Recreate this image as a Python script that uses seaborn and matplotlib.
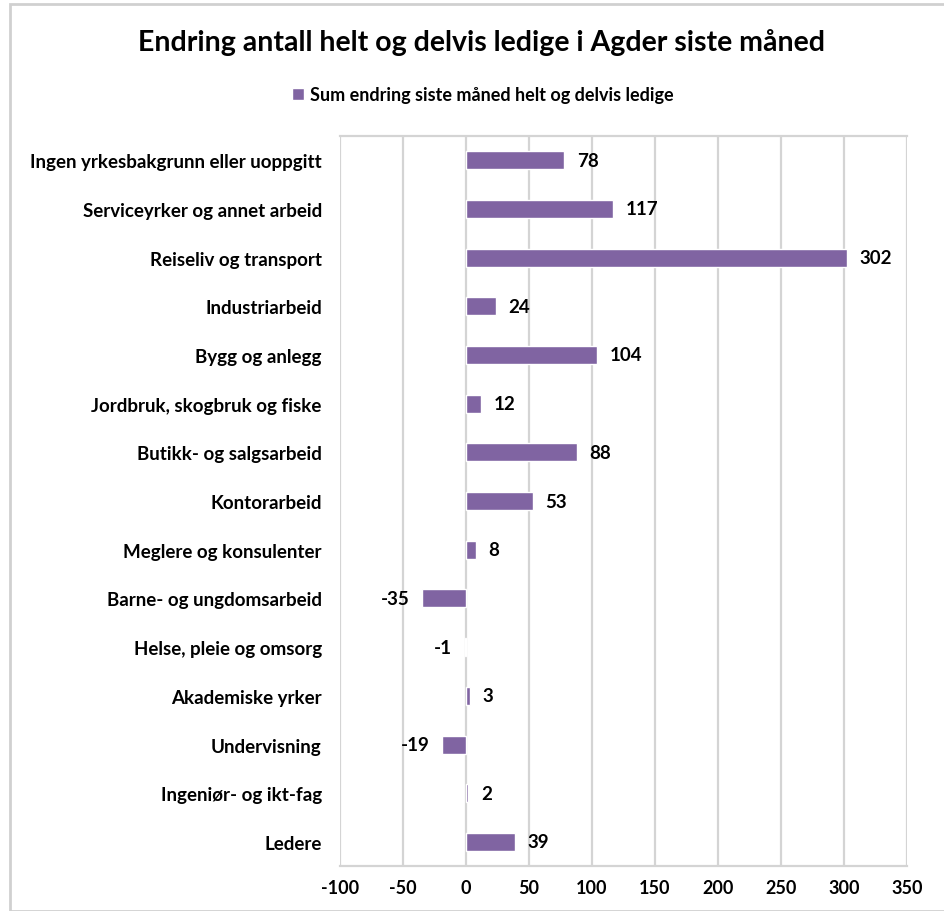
import matplotlib
matplotlib.use('Agg')
import matplotlib.pyplot as plt
import seaborn as sns
import pandas as pd
from matplotlib.patches import Rectangle

categories = [
    'Ingen yrkesbakgrunn eller uoppgitt',
    'Serviceyrker og annet arbeid',
    'Reiseliv og transport',
    'Industriarbeid',
    'Bygg og anlegg',
    'Jordbruk, skogbruk og fiske',
    'Butikk- og salgsarbeid',
    'Kontorarbeid',
    'Meglere og konsulenter',
    'Barne- og ungdomsarbeid',
    'Helse, pleie og omsorg',
    'Akademiske yrker',
    'Undervisning',
    'Ingeniør- og ikt-fag',
    'Ledere',
]
values = [78, 117, 302, 24, 104, 12, 88, 53, 8, -35, -1, 3, -19, 2, 39]
xticks = [-100, -50, 0, 50, 100, 150, 200, 250, 300, 350]

series_name = 'Sum endring siste måned helt og delvis ledige'
bar_color = '#8064A2'
grid_color = '#D4D4D4'

df = pd.DataFrame({'yrke': categories, 'endring': values})

sns.set_style('white')
plt.rcParams['font.family'] = ['Lato', 'DejaVu Sans']
plt.rcParams['font.weight'] = 'bold'
plt.rcParams['text.color'] = 'black'
plt.rcParams['xtick.color'] = 'black'
plt.rcParams['ytick.color'] = 'black'

fig = plt.figure(figsize=(9.44, 9.12), dpi=100)
ax = fig.add_axes([0.360, 0.049, 0.601, 0.801])

sns.barplot(data=df, x='endring', y='yrke', orient='h', color=bar_color,
            width=0.37, saturation=1, ax=ax, label=series_name)

ax.bar_label(ax.containers[0], labels=[str(v) for v in values], padding=9,
             fontsize=13.5, fontweight='bold', color='black')

ax.set_xlim(-100, 350)
ax.set_xticks(xticks)
ax.set_xticklabels([str(t) for t in xticks], fontsize=13, fontweight='bold')
ax.set_ylim(len(categories) - 0.5, -0.5)
ax.tick_params(axis='y', labelsize=13.5, length=0, pad=13)
ax.tick_params(axis='x', length=0, pad=9)
ax.set_xlabel('')
ax.set_ylabel('')
ax.xaxis.grid(True, color=grid_color, linewidth=1.6)
ax.set_axisbelow(True)
for side in ['left', 'right']:
    ax.spines[side].set_visible(False)
for side in ['top', 'bottom']:
    ax.spines[side].set_color(grid_color)
    ax.spines[side].set_linewidth(1.6)

fig.text(0.510, 0.953, 'Endring antall helt og delvis ledige i Agder siste måned',
         ha='center', va='center', fontsize=20.5, fontweight='bold')

ax.legend(loc='center', bbox_to_anchor=(0.511, 0.895), bbox_transform=fig.transFigure,
          frameon=False, handlelength=0.7, handleheight=0.7,
          handletextpad=0.3, prop={'weight': 'bold', 'size': 13})

fig.patches.append(Rectangle((10 / 944, 0), 1, 1 - 5 / 912, transform=fig.transFigure,
                             fill=False, edgecolor='#D0D0D0', linewidth=2))

fig.savefig('out.png', dpi=100)
